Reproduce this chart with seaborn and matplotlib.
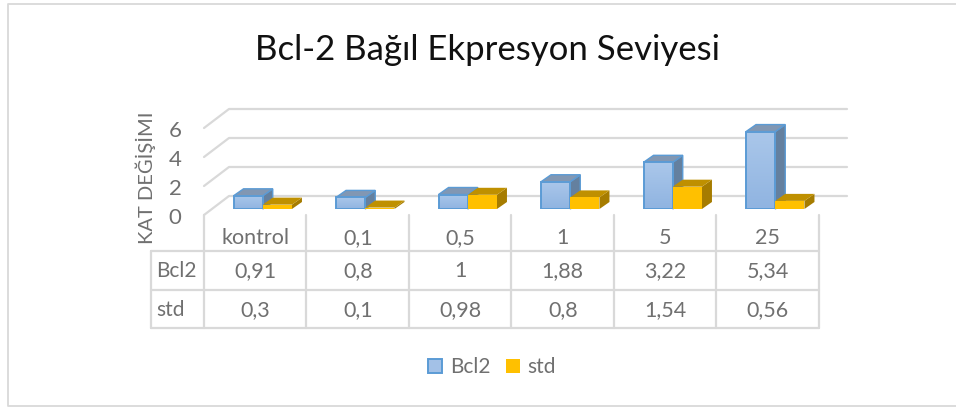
import numpy as np
import pandas as pd
import matplotlib
matplotlib.use("Agg")
import matplotlib.pyplot as plt
from matplotlib.colors import LinearSegmentedColormap
from matplotlib.patches import Polygon, Rectangle
import seaborn as sns

### DATA ###
categories = ["kontrol", "0,1", "0,5", "1", "5", "25"]
bcl2_values = [0.91, 0.8, 1, 1.88, 3.22, 5.34]
std_values = [0.3, 0.1, 0.98, 0.8, 1.54, 0.56]
y_ticks = [0, 2, 4, 6]
title = "Bcl-2 Bağıl Ekpresyon Seviyesi"
y_label = "KAT DEĞİŞİMI"

W, H = 956, 412
GREY = "#707070"
LINE = "#d9d9d9"

sns.set_theme(style="white")
plt.rcParams["font.family"] = ["Lato", "DejaVu Sans"]

fmt = lambda v: f"{v:g}".replace(".", ",")

fig = plt.figure(figsize=(W / 100, H / 100), dpi=100)

# pixel layer for frame, walls and table
bg = fig.add_axes([0, 0, 1, 1])
bg.set_xlim(0, W)
bg.set_ylim(H, 0)
bg.axis("off")

# frame runs off the right edge
bg.plot([W + 2, 8, 8, W + 2], [4, 4, 406, 406], color=LINE, lw=1.3)
bg.text(488, 50, title, ha="center", va="center", fontsize=25, color="#111111")

# walls: front edge is 25px left and 19px below the back one
unit = 14.5
for t in y_ticks:
    yb = 196 - t * unit
    bg.plot([204, 229, 847], [yb + 19, yb, yb], color=LINE, lw=1.6, zorder=1)
    bg.text(175, yb + 22, str(t), ha="center", va="center", fontsize=16, color=GREY)
bg.text(145.5, 178, y_label, rotation=90, ha="center", va="center", fontsize=14.5, color=GREY)

# table
col_x = np.linspace(204, 819, len(categories) + 1)
rows_y = [251, 290, 328]
for x in col_x:
    bg.plot([x, x], [215, 328], color=LINE, lw=1.6, zorder=1)
bg.plot([151, 151], [251, 328], color=LINE, lw=1.6, zorder=1)
for y in rows_y:
    bg.plot([151, 819], [y, y], color=LINE, lw=1.6, zorder=1)
centres = (col_x[:-1] + col_x[1:]) / 2
for i, c in enumerate(categories):
    bg.text(centres[i], 238, c, ha="center", va="center", fontsize=15.5, color=GREY)
    bg.text(centres[i], 271, fmt(bcl2_values[i]), ha="center", va="center", fontsize=15.5, color=GREY)
    bg.text(centres[i], 310, fmt(std_values[i]), ha="center", va="center", fontsize=15.5, color=GREY)
bg.text(156, 271, "Bcl2", ha="left", va="center", fontsize=15, color=GREY)
bg.text(156, 310, "std", ha="left", va="center", fontsize=15, color=GREY)

# bars, axes shifted so category 0 sits 7.5px right of its table column
left, right, base, top = 211.5, 826.5, 209, 109
ax = fig.add_axes([left / W, 1 - base / H, (right - left) / W, (base - top) / H])
ax.patch.set_alpha(0)
df = pd.DataFrame({"cat": categories * 2,
                   "val": bcl2_values + std_values,
                   "series": ["Bcl2"] * 6 + ["std"] * 6})
sns.barplot(data=df, x="cat", y="val", hue="series", palette={"Bcl2": "#9dbde6", "std": "#ffc000"},
            width=0.57, gap=0, saturation=1, legend=False, linewidth=0, ax=ax)
ax.axis("off")

dx = 10 / ((right - left) / 6)
dy = 7 / unit
blue_map = LinearSegmentedColormap.from_list("b", ["#aac7ea", "#90b4e1"])
for p in list(ax.patches):
    x0, w, h = p.get_x(), p.get_width(), p.get_height()
    blue = p.get_facecolor()[2] > 0.5
    side, roof, edge = ("#64809f", "#8197b3", "#5b9bd5") if blue else ("#a67c00", "#bf9000", "none")
    # std sits in front of the blue side face
    z = 2 if blue else 3
    ax.add_patch(Polygon([(x0 + w, 0), (x0 + w + dx, dy), (x0 + w + dx, h + dy), (x0 + w, h)],
                         fc=side, ec=edge, lw=1, clip_on=False, zorder=z))
    ax.add_patch(Polygon([(x0, h), (x0 + dx, h + dy), (x0 + w + dx, h + dy), (x0 + w, h)],
                         fc=roof, ec=edge, lw=1, clip_on=False, zorder=z))
    p.set_zorder(z + 0.5)
    if blue:
        p.set_facecolor("none")
        p.set_edgecolor(edge)
        p.set_linewidth(1.4)
        ax.imshow(np.linspace(0, 1, 32)[:, None], extent=(x0, x0 + w, 0, h), origin="upper",
                  cmap=blue_map, aspect="auto", zorder=z + 0.4)
ax.set_xlim(-0.5, 5.5)
ax.set_ylim(0, (base - top) / unit)

# legend
h1 = Rectangle((0, 0), 1, 1, fc="#a3c1e7", ec="#5b9bd5", lw=1.4)
h2 = Rectangle((0, 0), 1, 1, fc="#ffc000", ec="none")
fig.legend([h1, h2], ["Bcl2", "std"], ncol=2, loc="center", bbox_to_anchor=(492 / W, 1 - 367 / H),
           frameon=False, fontsize=15, labelcolor=GREY, handlelength=0.67, handleheight=0.67,
           handletextpad=0.35, columnspacing=0.75)

fig.savefig("out.png", dpi=100)
